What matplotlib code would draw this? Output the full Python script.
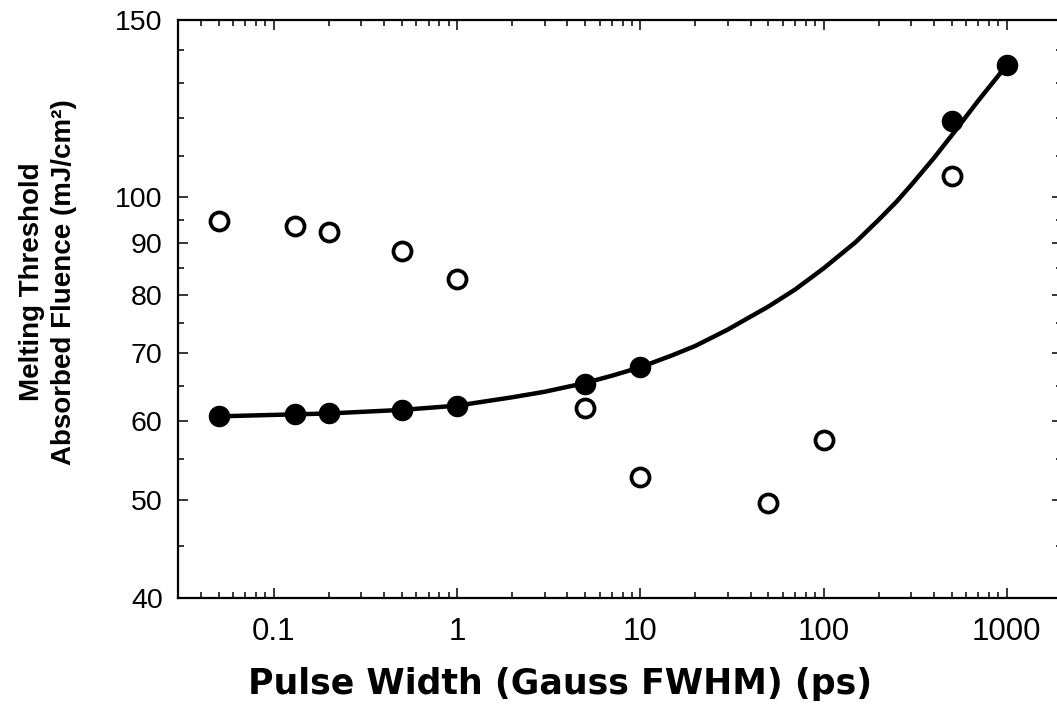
import matplotlib
matplotlib.use("Agg")
import matplotlib.pyplot as plt
from matplotlib.ticker import FixedLocator, NullFormatter, FixedFormatter

plt.rcParams['font.family'] = ['Liberation Sans', 'DejaVu Sans']

# Data
pulse_filled = [0.05, 0.13, 0.2, 0.5, 1, 5, 10, 500, 1000]
fluence_filled = [60.6, 60.9, 61.0, 61.5, 62.0, 65.2, 67.8, 119.0, 135.3]

pulse_open = [0.05, 0.13, 0.2, 0.5, 1, 5, 10, 50, 100, 500]
fluence_open = [94.8, 93.6, 92.4, 88.4, 83.0, 61.7, 52.7, 49.7, 57.4, 105.1]

# fitted curve
curve_x = [0.05, 0.1, 0.2, 0.5, 1, 2, 3, 5, 7, 10, 15, 20, 30, 50, 70, 100,
           150, 200, 250, 300, 400, 500, 700, 1000]
curve_y = [60.6, 60.8, 61.0, 61.5, 62.1, 63.3, 64.1, 65.4, 66.5, 67.8, 69.7, 71.2, 73.9, 77.9, 81.0, 85.0,
           90.3, 95.0, 99.0, 102.8, 109.4, 115.2, 124.8, 135.3]

x_major = [0.1, 1, 10, 100, 1000]
x_major_labels = ['0.1', '1', '10', '100', '1000']
y_major = [40, 50, 60, 70, 80, 90, 100, 150]
y_major_labels = ['40', '50', '60', '70', '80', '90', '100', '150']
y_minor = [45, 55, 65, 75, 85, 95, 110, 120, 130, 140]

W, H = 1057, 711
fig = plt.figure(figsize=(W / 100, H / 100), dpi=100)
left, right, top, bottom = 178, 1062, 20, 598
ax = fig.add_axes([left / W, 1 - bottom / H, (right - left) / W, (bottom - top) / H])

ax.set_xscale('log')
ax.set_yscale('log')
ax.set_xlim(0.03, 2000)
ax.set_ylim(40, 150)

ax.plot(curve_x, curve_y, color='black', lw=3.2, zorder=2, solid_capstyle='round',
        solid_joinstyle='round')
ax.plot(pulse_filled, fluence_filled, 'o', color='black', markersize=14.5, zorder=3)
ax.plot(pulse_open, fluence_open, 'o', markerfacecolor='white', markeredgecolor='black',
        markersize=13, markeredgewidth=2.7, zorder=3)

# ticks
ax.xaxis.set_major_locator(FixedLocator(x_major))
ax.xaxis.set_major_formatter(FixedFormatter(x_major_labels))
x_minor = [m * 10.0 ** e for e in range(-2, 4) for m in range(2, 10)]
ax.xaxis.set_minor_locator(FixedLocator(x_minor))
ax.xaxis.set_minor_formatter(NullFormatter())

ax.yaxis.set_major_locator(FixedLocator(y_major))
ax.yaxis.set_major_formatter(FixedFormatter(y_major_labels))
ax.yaxis.set_minor_locator(FixedLocator(y_minor))
ax.yaxis.set_minor_formatter(NullFormatter())

ax.tick_params(which='both', direction='in', top=True, right=True, width=1.1, color='black')
ax.tick_params(which='major', length=7)
ax.tick_params(which='minor', length=4)
ax.tick_params(axis='x', which='major', labelsize=22.5, pad=14)
ax.tick_params(axis='y', which='major', labelsize=20.5, pad=11)

for sp in ax.spines.values():
    sp.set_linewidth(1.6)
    sp.set_color('black')

ax.set_xlabel('Pulse Width (Gauss FWHM) (ps)', fontsize=25, fontweight='bold',
              family=['DejaVu Sans'], ha='center', va='center')
ax.xaxis.set_label_coords((560 - left) / (right - left), -(684 - bottom) / (bottom - top))

ax.set_ylabel('Melting Threshold\nAbsorbed Fluence (mJ/cm²)', fontsize=20, fontweight='bold',
              ha='center', va='center', multialignment='center', linespacing=1.3)
ax.yaxis.set_label_coords((48 - left) / (right - left), (bottom - 282) / (bottom - top))

fig.savefig('out.png', dpi=100)
